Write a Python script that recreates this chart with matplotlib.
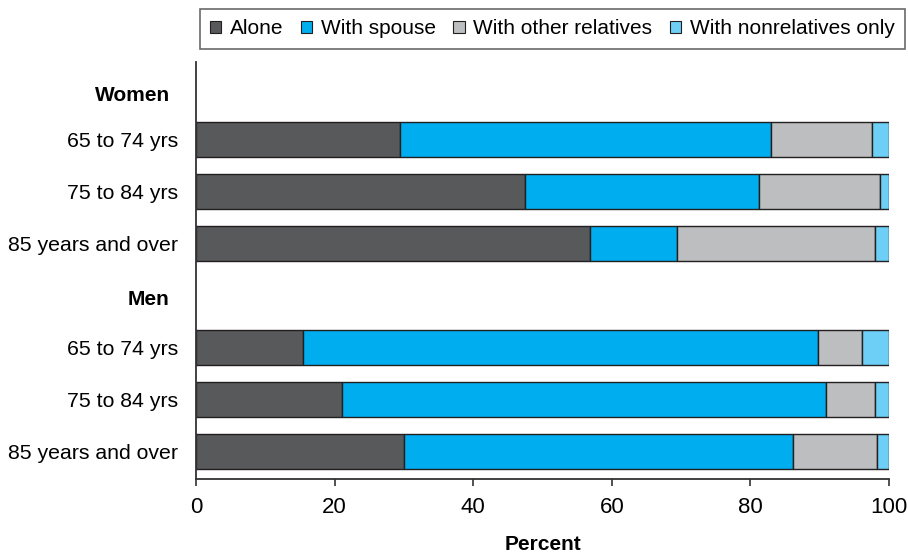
import matplotlib.pyplot as plt
from matplotlib.patches import Patch
import numpy as np

plt.rcParams["font.family"] = ["Liberation Sans", "DejaVu Sans"]

# Living arrangements of older people, percent
rows = ['65 to 74 yrs', '75 to 84 yrs', '85 years and over',
        '65 to 74 yrs', '75 to 84 yrs', '85 years and over']
groups = ['Women', 'Men']
alone = [29.5, 47.5, 56.9, 15.4, 21.1, 30.0]
spouse = [53.4, 33.7, 12.5, 74.3, 69.8, 56.2]
other_rel = [14.6, 17.5, 28.6, 6.4, 7.1, 12.0]
nonrel = [2.5, 1.3, 2.0, 3.9, 2.0, 1.8]

series = [alone, spouse, other_rel, nonrel]
names = ['Alone', 'With spouse', 'With other relatives', 'With nonrelatives only']
colors = ['#58595b', '#00aeef', '#bcbec0', '#6dcff6']

ypos = np.array([1, 2, 3, 5, 6, 7])
group_y = [0.16, 4.08]

fig = plt.figure(figsize=(9.08, 5.57), dpi=100)
ax = fig.add_axes([0.2159, 0.14, 0.7632, 0.7487])

left = np.zeros(len(rows))
for vals, c in zip(series, colors):
    ax.barh(ypos, vals, left=left, height=0.67, color=c,
            edgecolor='#231f20', linewidth=1)
    left += np.array(vals)

ax.set_ylim(7.52, -0.48)
ax.set_xlim(0, 100)
ax.set_xticks([0, 20, 40, 60, 80, 100])
ax.set_yticks(ypos)
ax.set_yticklabels(rows)
ax.tick_params(axis='y', length=0, pad=13, labelsize=15.3)
ax.tick_params(axis='x', length=5, width=1.2, pad=8, labelsize=16, color='#333333')

for g, y in zip(groups, group_y):
    ax.text(-0.038, y, g, transform=ax.get_yaxis_transform(), ha='right',
            va='center', fontsize=15, fontweight='bold')

for s in ['top', 'right']:
    ax.spines[s].set_visible(False)
for s in ['left', 'bottom']:
    ax.spines[s].set_color('#333333')
    ax.spines[s].set_linewidth(1.3)

ax.set_xlabel('Percent', fontsize=15, fontweight='bold', labelpad=12)

handles = [Patch(facecolor=c, edgecolor='#231f20', linewidth=0.8) for c in colors]
leg = fig.legend(handles, names, loc='upper right', bbox_to_anchor=(905 / 908, 1 - 9 / 557),
                 ncol=4, fontsize=15, frameon=True, fancybox=False,
                 handlelength=0.55, handleheight=0.55, handletextpad=0.4,
                 columnspacing=0.85, borderpad=0.5, borderaxespad=0)
leg.get_frame().set_edgecolor('#444444')
leg.get_frame().set_linewidth(1.2)

plt.savefig('out.png', dpi=100)
